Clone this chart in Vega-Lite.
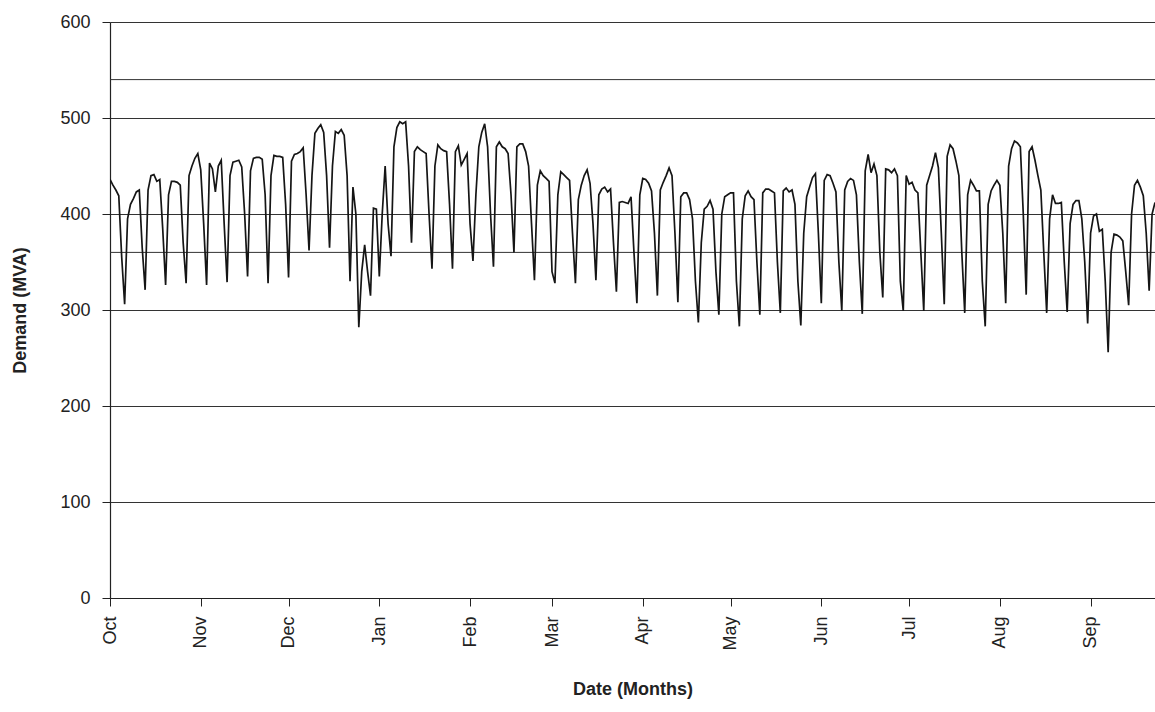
{
"$schema": "https://vega.github.io/schema/vega-lite/v6.json",
"autosize": {"type": "none"},
"padding": {"left": 110, "top": 22, "right": 0, "bottom": 114},
"width": 1045,
"height": 576,
"background": "white",
"config": {"view": {"stroke": null}, "font": "Liberation Sans"},
"datasets": {
"refs": [{"mva": 360}, {"mva": 540}],
"demand": [
{"date":"2002-10-01","mva":436},{"date":"2002-10-02","mva":430},{"date":"2002-10-03","mva":425},{"date":"2002-10-04","mva":419},{"date":"2002-10-05","mva":355},{"date":"2002-10-06","mva":306},{"date":"2002-10-07","mva":395},{"date":"2002-10-08","mva":410},{"date":"2002-10-09","mva":416},{"date":"2002-10-10","mva":423},{"date":"2002-10-11","mva":425},{"date":"2002-10-12","mva":365},{"date":"2002-10-13","mva":321},{"date":"2002-10-14","mva":425},{"date":"2002-10-15","mva":440},{"date":"2002-10-16","mva":441},{"date":"2002-10-17","mva":434},{"date":"2002-10-18","mva":436},{"date":"2002-10-19","mva":385},{"date":"2002-10-20","mva":326},{"date":"2002-10-21","mva":420},{"date":"2002-10-22","mva":434},{"date":"2002-10-23","mva":434},{"date":"2002-10-24","mva":433},{"date":"2002-10-25","mva":430},{"date":"2002-10-26","mva":370},{"date":"2002-10-27","mva":328},{"date":"2002-10-28","mva":440},{"date":"2002-10-29","mva":450},{"date":"2002-10-30","mva":458},{"date":"2002-10-31","mva":463},
{"date":"2002-11-01","mva":446},{"date":"2002-11-02","mva":390},{"date":"2002-11-03","mva":326},{"date":"2002-11-04","mva":453},{"date":"2002-11-05","mva":447},{"date":"2002-11-06","mva":423},{"date":"2002-11-07","mva":450},{"date":"2002-11-08","mva":456},{"date":"2002-11-09","mva":390},{"date":"2002-11-10","mva":329},{"date":"2002-11-11","mva":440},{"date":"2002-11-12","mva":454},{"date":"2002-11-13","mva":455},{"date":"2002-11-14","mva":456},{"date":"2002-11-15","mva":449},{"date":"2002-11-16","mva":400},{"date":"2002-11-17","mva":335},{"date":"2002-11-18","mva":445},{"date":"2002-11-19","mva":458},{"date":"2002-11-20","mva":459},{"date":"2002-11-21","mva":459},{"date":"2002-11-22","mva":457},{"date":"2002-11-23","mva":420},{"date":"2002-11-24","mva":328},{"date":"2002-11-25","mva":440},{"date":"2002-11-26","mva":461},{"date":"2002-11-27","mva":460},{"date":"2002-11-28","mva":460},{"date":"2002-11-29","mva":459},{"date":"2002-11-30","mva":410},
{"date":"2002-12-01","mva":334},{"date":"2002-12-02","mva":455},{"date":"2002-12-03","mva":462},{"date":"2002-12-04","mva":463},{"date":"2002-12-05","mva":465},{"date":"2002-12-06","mva":469},{"date":"2002-12-07","mva":420},{"date":"2002-12-08","mva":362},{"date":"2002-12-09","mva":440},{"date":"2002-12-10","mva":484},{"date":"2002-12-11","mva":489},{"date":"2002-12-12","mva":493},{"date":"2002-12-13","mva":485},{"date":"2002-12-14","mva":440},{"date":"2002-12-15","mva":365},{"date":"2002-12-16","mva":450},{"date":"2002-12-17","mva":486},{"date":"2002-12-18","mva":484},{"date":"2002-12-19","mva":488},{"date":"2002-12-20","mva":482},{"date":"2002-12-21","mva":440},{"date":"2002-12-22","mva":330},{"date":"2002-12-23","mva":428},{"date":"2002-12-24","mva":400},{"date":"2002-12-25","mva":282},{"date":"2002-12-26","mva":340},{"date":"2002-12-27","mva":368},{"date":"2002-12-28","mva":340},{"date":"2002-12-29","mva":315},{"date":"2002-12-30","mva":406},{"date":"2002-12-31","mva":405},
{"date":"2003-01-01","mva":335},{"date":"2003-01-02","mva":400},{"date":"2003-01-03","mva":450},{"date":"2003-01-04","mva":390},{"date":"2003-01-05","mva":356},{"date":"2003-01-06","mva":470},{"date":"2003-01-07","mva":490},{"date":"2003-01-08","mva":496},{"date":"2003-01-09","mva":494},{"date":"2003-01-10","mva":496},{"date":"2003-01-11","mva":450},{"date":"2003-01-12","mva":370},{"date":"2003-01-13","mva":465},{"date":"2003-01-14","mva":470},{"date":"2003-01-15","mva":467},{"date":"2003-01-16","mva":465},{"date":"2003-01-17","mva":463},{"date":"2003-01-18","mva":400},{"date":"2003-01-19","mva":343},{"date":"2003-01-20","mva":450},{"date":"2003-01-21","mva":472},{"date":"2003-01-22","mva":468},{"date":"2003-01-23","mva":466},{"date":"2003-01-24","mva":465},{"date":"2003-01-25","mva":410},{"date":"2003-01-26","mva":343},{"date":"2003-01-27","mva":465},{"date":"2003-01-28","mva":471},{"date":"2003-01-29","mva":451},{"date":"2003-01-30","mva":457},{"date":"2003-01-31","mva":463},
{"date":"2003-02-01","mva":390},{"date":"2003-02-02","mva":351},{"date":"2003-02-03","mva":420},{"date":"2003-02-04","mva":470},{"date":"2003-02-05","mva":485},{"date":"2003-02-06","mva":494},{"date":"2003-02-07","mva":470},{"date":"2003-02-08","mva":400},{"date":"2003-02-09","mva":345},{"date":"2003-02-10","mva":470},{"date":"2003-02-11","mva":475},{"date":"2003-02-12","mva":470},{"date":"2003-02-13","mva":468},{"date":"2003-02-14","mva":463},{"date":"2003-02-15","mva":420},{"date":"2003-02-16","mva":360},{"date":"2003-02-17","mva":470},{"date":"2003-02-18","mva":473},{"date":"2003-02-19","mva":473},{"date":"2003-02-20","mva":465},{"date":"2003-02-21","mva":450},{"date":"2003-02-22","mva":390},{"date":"2003-02-23","mva":331},{"date":"2003-02-24","mva":430},{"date":"2003-02-25","mva":445},{"date":"2003-02-26","mva":440},{"date":"2003-02-27","mva":437},{"date":"2003-02-28","mva":434},
{"date":"2003-03-01","mva":340},{"date":"2003-03-02","mva":328},{"date":"2003-03-03","mva":420},{"date":"2003-03-04","mva":444},{"date":"2003-03-05","mva":441},{"date":"2003-03-06","mva":438},{"date":"2003-03-07","mva":435},{"date":"2003-03-08","mva":380},{"date":"2003-03-09","mva":328},{"date":"2003-03-10","mva":415},{"date":"2003-03-11","mva":430},{"date":"2003-03-12","mva":440},{"date":"2003-03-13","mva":446},{"date":"2003-03-14","mva":432},{"date":"2003-03-15","mva":390},{"date":"2003-03-16","mva":331},{"date":"2003-03-17","mva":420},{"date":"2003-03-18","mva":426},{"date":"2003-03-19","mva":428},{"date":"2003-03-20","mva":423},{"date":"2003-03-21","mva":426},{"date":"2003-03-22","mva":370},{"date":"2003-03-23","mva":319},{"date":"2003-03-24","mva":412},{"date":"2003-03-25","mva":413},{"date":"2003-03-26","mva":412},{"date":"2003-03-27","mva":411},{"date":"2003-03-28","mva":418},{"date":"2003-03-29","mva":360},{"date":"2003-03-30","mva":307},{"date":"2003-03-31","mva":420},
{"date":"2003-04-01","mva":437},{"date":"2003-04-02","mva":436},{"date":"2003-04-03","mva":432},{"date":"2003-04-04","mva":424},{"date":"2003-04-05","mva":380},{"date":"2003-04-06","mva":315},{"date":"2003-04-07","mva":425},{"date":"2003-04-08","mva":433},{"date":"2003-04-09","mva":440},{"date":"2003-04-10","mva":448},{"date":"2003-04-11","mva":440},{"date":"2003-04-12","mva":380},{"date":"2003-04-13","mva":308},{"date":"2003-04-14","mva":418},{"date":"2003-04-15","mva":422},{"date":"2003-04-16","mva":422},{"date":"2003-04-17","mva":415},{"date":"2003-04-18","mva":395},{"date":"2003-04-19","mva":330},{"date":"2003-04-20","mva":287},{"date":"2003-04-21","mva":370},{"date":"2003-04-22","mva":405},{"date":"2003-04-23","mva":408},{"date":"2003-04-24","mva":414},{"date":"2003-04-25","mva":405},{"date":"2003-04-26","mva":340},{"date":"2003-04-27","mva":295},{"date":"2003-04-28","mva":400},{"date":"2003-04-29","mva":418},{"date":"2003-04-30","mva":420},
{"date":"2003-05-01","mva":422},{"date":"2003-05-02","mva":422},{"date":"2003-05-03","mva":330},{"date":"2003-05-04","mva":283},{"date":"2003-05-05","mva":395},{"date":"2003-05-06","mva":419},{"date":"2003-05-07","mva":424},{"date":"2003-05-08","mva":418},{"date":"2003-05-09","mva":415},{"date":"2003-05-10","mva":350},{"date":"2003-05-11","mva":295},{"date":"2003-05-12","mva":422},{"date":"2003-05-13","mva":426},{"date":"2003-05-14","mva":426},{"date":"2003-05-15","mva":424},{"date":"2003-05-16","mva":422},{"date":"2003-05-17","mva":350},{"date":"2003-05-18","mva":297},{"date":"2003-05-19","mva":424},{"date":"2003-05-20","mva":427},{"date":"2003-05-21","mva":423},{"date":"2003-05-22","mva":425},{"date":"2003-05-23","mva":410},{"date":"2003-05-24","mva":330},{"date":"2003-05-25","mva":284},{"date":"2003-05-26","mva":380},{"date":"2003-05-27","mva":418},{"date":"2003-05-28","mva":428},{"date":"2003-05-29","mva":438},{"date":"2003-05-30","mva":442},{"date":"2003-05-31","mva":380},
{"date":"2003-06-01","mva":307},{"date":"2003-06-02","mva":435},{"date":"2003-06-03","mva":441},{"date":"2003-06-04","mva":440},{"date":"2003-06-05","mva":432},{"date":"2003-06-06","mva":423},{"date":"2003-06-07","mva":350},{"date":"2003-06-08","mva":299},{"date":"2003-06-09","mva":425},{"date":"2003-06-10","mva":434},{"date":"2003-06-11","mva":437},{"date":"2003-06-12","mva":435},{"date":"2003-06-13","mva":420},{"date":"2003-06-14","mva":350},{"date":"2003-06-15","mva":296},{"date":"2003-06-16","mva":445},{"date":"2003-06-17","mva":462},{"date":"2003-06-18","mva":443},{"date":"2003-06-19","mva":452},{"date":"2003-06-20","mva":440},{"date":"2003-06-21","mva":360},{"date":"2003-06-22","mva":313},{"date":"2003-06-23","mva":447},{"date":"2003-06-24","mva":446},{"date":"2003-06-25","mva":443},{"date":"2003-06-26","mva":447},{"date":"2003-06-27","mva":440},{"date":"2003-06-28","mva":330},{"date":"2003-06-29","mva":299},{"date":"2003-06-30","mva":440},
{"date":"2003-07-01","mva":431},{"date":"2003-07-02","mva":433},{"date":"2003-07-03","mva":425},{"date":"2003-07-04","mva":422},{"date":"2003-07-05","mva":360},{"date":"2003-07-06","mva":299},{"date":"2003-07-07","mva":430},{"date":"2003-07-08","mva":440},{"date":"2003-07-09","mva":450},{"date":"2003-07-10","mva":464},{"date":"2003-07-11","mva":448},{"date":"2003-07-12","mva":380},{"date":"2003-07-13","mva":306},{"date":"2003-07-14","mva":460},{"date":"2003-07-15","mva":472},{"date":"2003-07-16","mva":468},{"date":"2003-07-17","mva":455},{"date":"2003-07-18","mva":440},{"date":"2003-07-19","mva":360},{"date":"2003-07-20","mva":297},{"date":"2003-07-21","mva":420},{"date":"2003-07-22","mva":435},{"date":"2003-07-23","mva":430},{"date":"2003-07-24","mva":424},{"date":"2003-07-25","mva":424},{"date":"2003-07-26","mva":330},{"date":"2003-07-27","mva":283},{"date":"2003-07-28","mva":410},{"date":"2003-07-29","mva":424},{"date":"2003-07-30","mva":430},{"date":"2003-07-31","mva":435},
{"date":"2003-08-01","mva":430},{"date":"2003-08-02","mva":380},{"date":"2003-08-03","mva":307},{"date":"2003-08-04","mva":450},{"date":"2003-08-05","mva":468},{"date":"2003-08-06","mva":476},{"date":"2003-08-07","mva":474},{"date":"2003-08-08","mva":470},{"date":"2003-08-09","mva":400},{"date":"2003-08-10","mva":316},{"date":"2003-08-11","mva":465},{"date":"2003-08-12","mva":470},{"date":"2003-08-13","mva":456},{"date":"2003-08-14","mva":440},{"date":"2003-08-15","mva":425},{"date":"2003-08-16","mva":360},{"date":"2003-08-17","mva":297},{"date":"2003-08-18","mva":395},{"date":"2003-08-19","mva":420},{"date":"2003-08-20","mva":411},{"date":"2003-08-21","mva":411},{"date":"2003-08-22","mva":412},{"date":"2003-08-23","mva":350},{"date":"2003-08-24","mva":298},{"date":"2003-08-25","mva":390},{"date":"2003-08-26","mva":410},{"date":"2003-08-27","mva":414},{"date":"2003-08-28","mva":414},{"date":"2003-08-29","mva":395},{"date":"2003-08-30","mva":350},{"date":"2003-08-31","mva":286},
{"date":"2003-09-01","mva":380},{"date":"2003-09-02","mva":398},{"date":"2003-09-03","mva":400},{"date":"2003-09-04","mva":382},{"date":"2003-09-05","mva":384},{"date":"2003-09-06","mva":330},{"date":"2003-09-07","mva":256},{"date":"2003-09-08","mva":360},{"date":"2003-09-09","mva":379},{"date":"2003-09-10","mva":378},{"date":"2003-09-11","mva":376},{"date":"2003-09-12","mva":372},{"date":"2003-09-13","mva":340},{"date":"2003-09-14","mva":305},{"date":"2003-09-15","mva":400},{"date":"2003-09-16","mva":430},{"date":"2003-09-17","mva":435},{"date":"2003-09-18","mva":428},{"date":"2003-09-19","mva":419},{"date":"2003-09-20","mva":380},{"date":"2003-09-21","mva":320},{"date":"2003-09-22","mva":400},{"date":"2003-09-23","mva":412}
]
},
"encoding": {
"y": {"field": "mva", "type": "quantitative",
 "scale": {"domain": [0, 600], "nice": false, "zero": true},
 "axis": {"values": [0, 100, 200, 300, 400, 500, 600], "grid": true, "gridColor": "#333333", "gridWidth": 1, "gridOpacity": 1,
  "domainColor": "#222222", "domainWidth": 1.2, "tickColor": "#222222", "tickSize": 8,
  "labelFontSize": 18, "labelColor": "#222222", "labelPadding": 12, "labelFont": "Liberation Sans",
  "title": "Demand (MVA)", "titleFontSize": 18, "titleFontWeight": "bold", "titleColor": "#222222", "titleFont": "Liberation Sans", "titlePadding": 30}}
},
"layer": [
{"data": {"name": "refs"}, "mark": {"type": "rule", "color": "#333333", "strokeWidth": 1}},
{"data": {"name": "demand"}, "mark": {"type": "line", "color": "#151515", "strokeWidth": 1.7, "clip": true},
 "encoding": {
  "x": {"field": "date", "type": "temporal",
   "scale": {"type": "utc", "nice": false, "domain": [{"year": 2002, "month": 10, "date": 1, "utc": true}, {"year": 2003, "month": 9, "date": 23, "utc": true}]},
   "axis": {"values": [{"year":2002,"month":10,"date":1,"utc":true},{"year":2002,"month":11,"date":1,"utc":true},{"year":2002,"month":12,"date":1,"utc":true},{"year":2003,"month":1,"date":1,"utc":true},{"year":2003,"month":2,"date":1,"utc":true},{"year":2003,"month":3,"date":1,"utc":true},{"year":2003,"month":4,"date":1,"utc":true},{"year":2003,"month":5,"date":1,"utc":true},{"year":2003,"month":6,"date":1,"utc":true},{"year":2003,"month":7,"date":1,"utc":true},{"year":2003,"month":8,"date":1,"utc":true},{"year":2003,"month":9,"date":1,"utc":true}],
    "labelExpr": "utcFormat(datum.value, '%b')", "labelAngle": 270, "labelFontSize": 18, "labelColor": "#222222", "labelFont": "Liberation Sans", "labelPadding": 10,
    "grid": false, "domainColor": "#222222", "domainWidth": 1.2, "tickColor": "#222222", "tickSize": 8,
    "title": "Date (Months)", "titleFontSize": 18, "titleFontWeight": "bold", "titleColor": "#222222", "titleFont": "Liberation Sans", "titlePadding": 30}
  }}}
]
}
